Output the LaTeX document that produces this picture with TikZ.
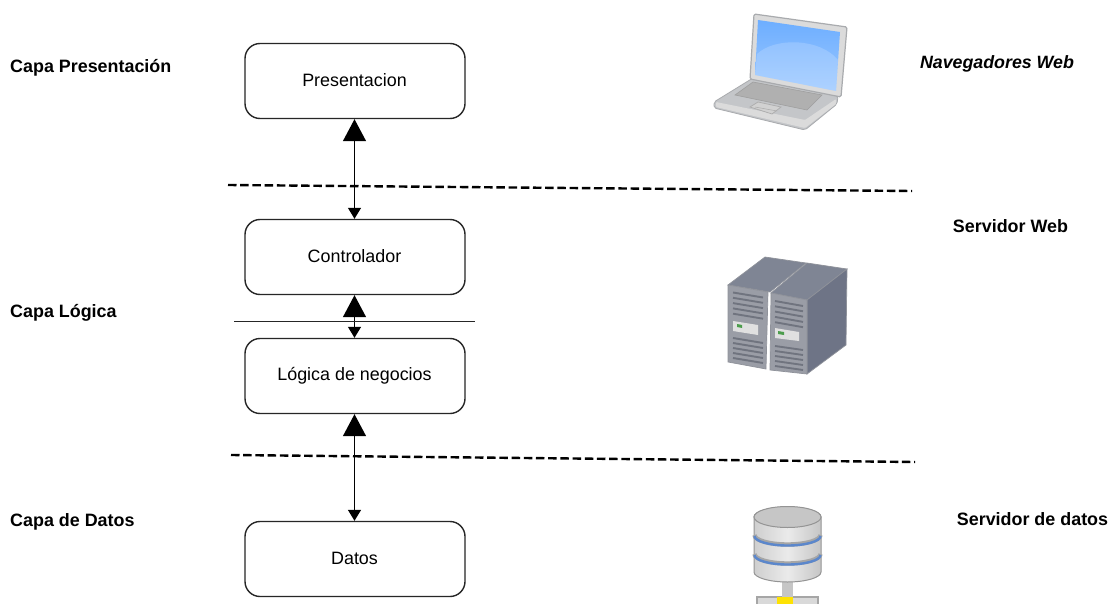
\documentclass[tikz,border=0pt]{standalone}
\usepackage{fontspec}
\setmainfont{Liberation Sans}
\usetikzlibrary{arrows.meta}
\definecolor{srvtop}{HTML}{7F8594}
\definecolor{srvside}{HTML}{6E7486}
\definecolor{srvfront}{HTML}{9A9DA6}
\definecolor{srvvent}{HTML}{70747F}
\definecolor{srvedge}{HTML}{8F929A}
\definecolor{lapgrey}{HTML}{C4C6C9}
\definecolor{lapedge}{HTML}{A9ABAE}
\definecolor{scrtop}{HTML}{6DAEFF}
\definecolor{scrbot}{HTML}{9CC8FF}
\definecolor{dbblue}{HTML}{5B87CC}
\definecolor{dbtop}{HTML}{C6C6C6}
\definecolor{dbedge}{HTML}{949494}
\tikzset{
  x=1pt,y=-1pt,
  boxnode/.style={draw=black!85,line width=1.4pt,rounded corners=15pt,minimum width=220pt,minimum height=75pt,inner sep=0pt,font=\fontsize{17.9}{18}\selectfont},
  layerlabel/.style={anchor=west,inner sep=0pt,font=\fontsize{17.9}{18}\selectfont\bfseries},
  tierlabel/.style={anchor=center,inner sep=0pt,font=\fontsize{17.9}{18}\selectfont\bfseries},
  biarrow/.style={draw=black,line width=1.4pt,{Triangle[length=22pt,width=23pt]}-{Triangle[length=11pt,width=13pt]}},
  dashline/.style={draw=black,line width=2.4pt,dash pattern=on 8.5pt off 3.7pt},
  vent/.style={draw=srvvent,line width=1.9pt},
}
\begin{document}
\begin{tikzpicture}
\useasboundingbox (0,0) rectangle (1110,604);
\clip (0,0) rectangle (1110,604);
\fill[white] (0,0) rectangle (1110,604);

% boxes
\node[boxnode] (pres) at (355,81) {\raisebox{1pt}{\hspace{-1pt}Presentacion}};
\node[boxnode] (ctrl) at (355,257) {\raisebox{1pt}{\hspace{-1pt}Controlador}};
\node[boxnode] (logic) at (355,376) {\raisebox{1pt}{\hspace{-1pt}Lógica de negocios}};
\node[boxnode] (datos) at (355,559) {\raisebox{1pt}{\hspace{-1pt}Datos}};

% connectors
\draw[biarrow,transform canvas={xshift=-.5pt}] (pres.south) -- (ctrl.north);
\draw[biarrow,transform canvas={xshift=-.5pt}] (ctrl.south) -- (logic.north);
\draw[biarrow,transform canvas={xshift=-.5pt}] (logic.south) -- (datos.north);

% separators
\coordinate (s1a) at (228,185); \coordinate (s1b) at (912,191);
\coordinate (s2a) at (231,455); \coordinate (s2b) at (915,462);
\coordinate (s3a) at (234,321); \coordinate (s3b) at (475,321);
\draw[dashline] (s1a) -- (s1b);
\draw[dashline] (s2a) -- (s2b);
\draw[black!85,line width=.9pt] (s3a) -- (s3b);

% labels
\node[layerlabel] (l1) at (10,67.5) {Capa Presentación};
\node[layerlabel] (l2) at (10,313) {Capa Lógica};
\node[layerlabel] (l3) at (10,522) {Capa de Datos};
\node[tierlabel,font=\fontsize{17.8}{18}\selectfont\bfseries\itshape] (t1) at (997,64) {Navegadores Web};
\node[tierlabel] (t2) at (1010.5,226) {Servidor Web};
\node[tierlabel] (t3) at (1032.5,519) {Servidor de datos};

% laptop
\fill[lapgrey,draw=lapedge,line width=.8pt,rounded corners=2pt] (714,102) -- (753,78) -- (838,96) -- (837,104) -- (805,130) -- (714,108) -- cycle;
\fill[white!86!black,rounded corners=1pt] (716,107) -- (805,128) -- (836,104) -- (836,99) -- (805,120) -- (716,102) -- cycle;
\fill[white!86!black,draw=lapedge,line width=1.2pt,rounded corners=1.5pt] (754,14) -- (847,27) -- (841,97) -- (750,79) -- cycle;
\shade[top color=scrtop,bottom color=scrbot] (758,20) -- (840,32) -- (836,91) -- (755,75) -- cycle;
\fill[white,opacity=.18] (757,54) .. controls (775,37) and (820,38) .. (838,60) -- (836,91) -- (755,75) -- cycle;
\fill[gray!62,draw=gray!75,line width=.6pt] (735,95) -- (753,82) -- (822,95) -- (807,110) -- cycle;
\fill[white!82!black,draw=gray!65,line width=.7pt] (750,107) -- (758,102) -- (781,107) -- (772,114) -- cycle;
\draw[gray!65,line width=.5pt] (755,107) -- (777,111);

% servers
\fill[srvtop,draw=srvedge,line width=.7pt] (728,285) -- (765,257) -- (806,263) -- (770,292) -- cycle;
\fill[srvfront,draw=srvedge,line width=.7pt] (728,285) -- (768,292) -- (766,369) -- (728,362) -- cycle;
\fill[srvtop,draw=srvedge,line width=.7pt] (771,293) -- (807,263) -- (847,269) -- (807,300) -- cycle;
\fill[srvside,draw=srvedge,line width=.7pt] (807,300) -- (847,269) -- (846,345) -- (807,374) -- cycle;
\fill[srvfront,draw=srvedge,line width=.7pt] (771,293) -- (807,300) -- (807,374) -- (770,370) -- cycle;
\foreach \i in {0,...,4} {
  \draw[vent] (733,{292.5+\i*5.3}) -- (763,{297.5+\i*5.3});
  \draw[vent] (733,{338+\i*5}) -- (763,{343+\i*5});
  \draw[vent] (775,{301+\i*5.3}) -- (803,{306+\i*5.3});
  \draw[vent] (775,{346+\i*5}) -- (803,{350+\i*5});
}
\fill[white!88!black] (733,321) -- (758,325) -- (758,335) -- (733,331) -- cycle;
\fill[green!45!black!70] (737,324) -- (742,325) -- (742,328) -- (737,327) -- cycle;
\fill[white!88!black] (775,328) -- (799,332) -- (799,341) -- (775,338) -- cycle;
\fill[green!45!black!70] (778,331) -- (784,332) -- (784,335) -- (778,334) -- cycle;

% database
\fill[gray!70] (756,596) rectangle (819,604);
\fill[gray!30] (758,598) rectangle (817,604);
\fill[gray!45] (782,580) rectangle (793,598);
\fill[yellow!85!orange] (777,597) rectangle (793,604);
\shade[left color=gray!38,right color=gray!45,middle color=white!92!black,draw=dbedge,line width=1pt] (754,517) -- (754,572) arc[start angle=180,end angle=0,x radius=33.5,y radius=10] -- (821,517) arc[start angle=0,end angle=-180,x radius=33.5,y radius=10] -- cycle;
\fill[dbtop,draw=dbedge,line width=1pt] (787.5,517) ellipse[x radius=33.5,y radius=10.5];
\draw[gray!70,line width=4.4pt] (754.5,535) arc[start angle=180,end angle=0,x radius=33,y radius=9.5];
\draw[dbblue,line width=2.4pt] (754.5,536) arc[start angle=180,end angle=0,x radius=33,y radius=9.5];
\draw[gray!70,line width=4.4pt] (754.5,554) arc[start angle=180,end angle=0,x radius=33,y radius=9.5];
\draw[dbblue,line width=2.4pt] (754.5,555) arc[start angle=180,end angle=0,x radius=33,y radius=9.5];
\end{tikzpicture}
\end{document}
